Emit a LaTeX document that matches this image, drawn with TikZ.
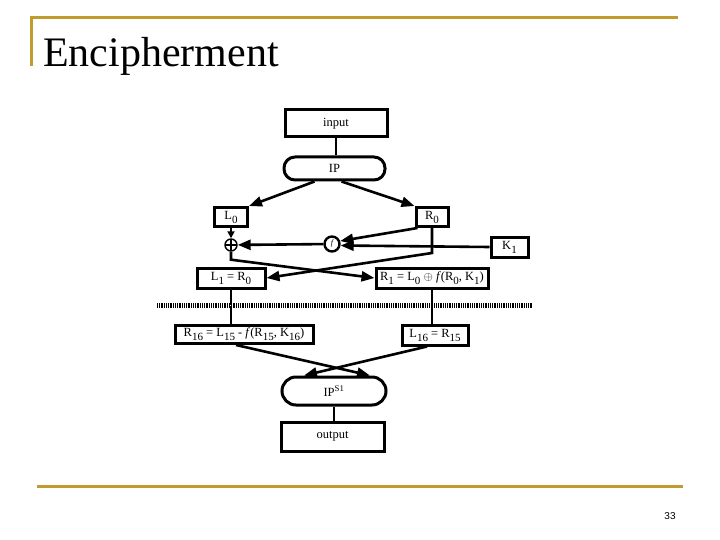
\documentclass[tikz,border=0pt]{standalone}
\usepackage{fontspec}
\setmainfont{Liberation Serif}
\newfontfamily\pagefont{Liberation Sans}
\usetikzlibrary{arrows.meta,calc}
\definecolor{slidegold}{RGB}{192,156,48}
\newcommand{\dn}[1]{\raisebox{-.7ex}{\fontsize{11}{12}\selectfont #1}}

\begin{document}
\begin{tikzpicture}[x=1pt,y=-1pt,
    blk/.style={draw,line width=3pt,inner sep=1pt,font=\fontsize{12.5}{13}\selectfont},
    rnd/.style={blk,rounded corners=11pt},
    arr/.style={line width=2.6pt,-{Triangle[length=13pt,width=10pt]}},
    lnk/.style={line width=2.6pt}]
		\useasboundingbox (0,0) rectangle (720,540);
		\draw[slidegold,line width=3pt] (31,66) -- (31,18) -- (678,18);
		\draw[slidegold,line width=3pt] (37,486) -- (683,486);
		\node[anchor=base west,inner sep=0,font=\fontsize{42}{44}\selectfont] (title) at (43,67) {Encipherment};
		\node[font=\pagefont\fontsize{10}{12}\selectfont] (page) at (670,516) {33};

		\node[blk,minimum width=102pt,minimum height=27pt] (input) at (336,123.5) {input};
		\node[rnd,minimum width=101pt,minimum height=23pt] (IP) at (334.5,168.5) {IP};
		\node[blk,minimum width=33pt,minimum height=19pt] (L0) at (231,217) {L\dn{0}};
		\node[blk,minimum width=32pt,minimum height=19pt] (R0) at (432,217) {R\dn{0}};
		\node[circle,draw,line width=1.4pt,minimum size=12pt,inner sep=0pt,
		      path picture={\draw[line width=1.2pt] (path picture bounding box.north) -- (path picture bounding box.south)
		      (path picture bounding box.east) -- (path picture bounding box.west);}] (xor) at (231,245) {};
		\node[circle,draw,line width=2.4pt,minimum size=15pt,inner sep=0pt,font=\footnotesize\itshape] (f) at (332,244) {f};
		\node[blk,minimum width=37pt,minimum height=20pt] (K1) at (509.5,247) {K\dn{1}};
		\node[blk,minimum width=68pt,minimum height=20pt] (L1) at (231,278) {L\dn{1} = R\dn{0}};
		\node[blk,minimum width=112pt,minimum height=20pt] (R1) at (432,278) {R\dn{1} = L\dn{0} $\oplus$ \textit{f}(R\dn{0}, K\dn{1})};
		\coordinate (dl) at (157,305);
		\coordinate (dr) at (532,305);
		\node[blk,minimum width=138pt,minimum height=18pt] (R16) at (244,334.5) {R\dn{16} = L\dn{15} - \textit{f}(R\dn{15}, K\dn{16})};
		\node[blk,minimum width=66pt,minimum height=20pt] (L16) at (435,335) {L\dn{16} = R\dn{15}};
		\node[rnd,minimum width=104pt,minimum height=28pt,rounded corners=14pt] (IPinv) at (334,391) {IP\textsuperscript{S1}};
		\node[blk,minimum width=103pt,minimum height=29pt] (output) at (332.5,436.5) {output};

		\draw[lnk] (input.south) -- (input.south |- IP.north);
		\draw[arr] ($(IP.south)+(-20,0)$) -- (L0.north east);
		\draw[arr] ($(IP.south)+(7,0)$) -- (R0.north west);
		\draw[line width=1.8pt,-{Triangle[length=7pt,width=7pt]}] (L0) -- (xor);
		\draw[arr] (f) -- (xor);
		\draw[arr] ($(R0.south west)+(3,0)$) -- (f.20);
		\draw[arr] (K1.west) -- (f.-10);
		\draw[arr] (R0.south) -- ++(0,25) -- (L1.east);
		\draw[arr] (xor.south) -- ++(0,8) -- (R1.west);
		\foreach \up/\lo in {L1/R16,R1/L16}
		{
		\draw[lnk] (\up.south) -- ++(0,15);
		\draw[lnk] (\up.south |- \lo.north) -- ++(0,-18);
		}
		\draw[line width=5pt,dash pattern=on 0.9pt off 0.9pt] (dl) -- (dr);
		\draw[arr] ($(R16.south)+(-8,0)$) -- ($(IPinv.north)+(36,0)$);
		\draw[arr] ($(L16.south)+(-8,0)$) -- ($(IPinv.north)+(-30,0)$);
		\draw[lnk] (IPinv.south) -- (IPinv.south |- output.north);
\end{tikzpicture}
\end{document}
